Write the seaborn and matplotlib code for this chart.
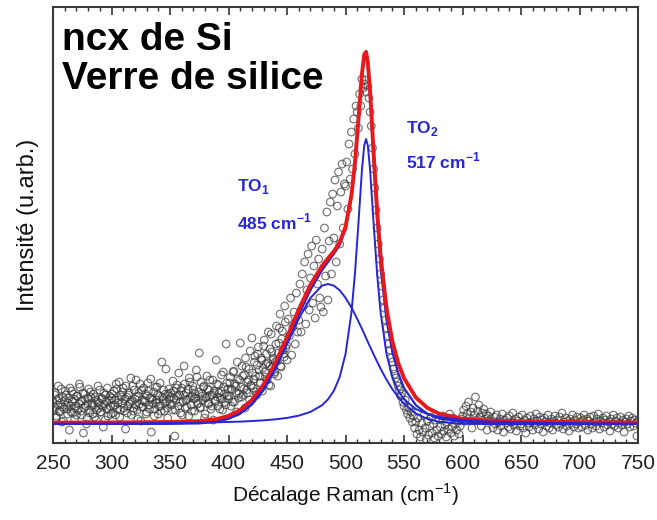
import matplotlib
matplotlib.use("Agg")
import matplotlib.pyplot as plt
import numpy as np
import pandas as pd
import seaborn as sns

# --- valeurs (intensité en u.arb., ligne de base = 0) ---

# spectre mesuré : un point par cm-1, de 250 à 750 cm-1
intensite = [
    # 250-299
    22, 14, 31, 8, 19, 26, 12, 35, 17, 3, 24, 29, 15, 21, -6, 18, 33, 11, 25, 16,
    9, 28, 20, 37, 13, 23, -9, 30, 18, 6, 26, 14, 32, 21, 10, 19, 27, 4, 22, 16,
    34, 12, 25, -3, 20, 29, 15, 8, 24, 18,
    # 300-349
    26, 11, 33, 19, 40, 15, 24, 7, 29, 21, 36, 13, -5, 27, 18, 31, 22, 9, 38, 16,
    25, 44, 14, 28, 20, 3, 34, 17, 23, 30, 12, 41, 19, 26, -8, 24, 32, 15, 21, 37,
    10, 28, 18, 62, 25, 13, 30, 22, 6, 35,
    # 350-399
    20, 27, 14, 33, -12, 24, 39, 18, 29, 11, 36, 22, 58, 16, 31, 25, 8, 42, 19, 28,
    34, 13, 26, 47, 21, 71, 17, 30, 24, 38, 10, 27, 35, 20, 44, 15, 29, 4, 33, 23,
    40, 18, 31, 26, 49, 14, 37, 22, 80, 28,
    # 400-419
    25, 41, 18, 34, 52, 22, 38, 12, 45, 30, 81, 27, 48, 35, 16, 57, 31, 44, 24, 39,
    # 420-439
    86, 36, 62, 48, 29, 70, 54, 41, 66, 33, 78, 52, 60, 44, 92, 58, 38, 72, 64, 50,
    # 440-459
    62, 98, 48, 81, 110, 57, 93, 70, 118, 76, 64, 105, 88, 126, 69, 97, 112, 80, 131, 92,
    # 460-479
    104, 140, 92, 150, 118, 162, 100, 134, 170, 114, 146, 178, 121, 158, 106, 184, 140, 165, 126, 117,
    # 480-499
    175, 112, 196, 148, 212, 124, 183, 222, 150, 230, 186, 244, 162, 218, 252, 180, 232, 260, 196, 240,
    # 500-509
    238, 262, 215, 280, 245, 292, 255, 305, 270, 318,
    # 510-519
    312, 296, 330, 318, 345, 336, 340, 344, 332, 338,
    # 520-529
    326, 312, 298, 276, 255, 236, 214, 196, 180, 165,
    # 530-544
    150, 138, 124, 116, 104, 96, 88, 80, 74, 66, 62, 55, 50, 46, 42,
    # 545-559
    38, 34, 28, 30, 22, 18, 24, 14, 10, 16, 6, 12, 2, 8, -4,
    # 560-599
    2, -10, 6, -6, -13, 1, -8, 9, -4, -15, 3, -11, -2, 7, -9, 0, -14, 4, -6, -12,
    5, -3, -10, 8, -7, -1, -13, 2, -5, 10, -9, -3, 6, -12, 0, -6, 3, -10, -2, 5,
    # 600-624
    8, 14, 3, 18, 10, 22, 6, 12, -4, 16, 9, 27, 4, 13, 19, 7, -2, 11, 15, 5, 10, -6, 8, 3, 12,
    # 625-699
    3, -4, 7, 0, 9, -6, 2, 5, -2, 10, -8, 4, 1, 6, -3, 8, -5, 2, 11, -1,
    5, -7, 3, 7, -2, 0, 9, -4, 4, -9, 6, 1, -3, 8, 2, -6, 5, -1, 10, 3,
    -5, 7, 0, 4, -8, 6, 2, -2, 9, -4, 1, 5, -6, 3, 8, -1, 4, -3, 7, 0,
    11, -5, 2, 6, -2, 3, -7, 5, 1, 9, -3, 4, 0, 7, -4,
    # 700-750
    2, 6, -3, 4, 9, -1, 5, -6, 3, 7, 0, -4, 8, 2, -2, 5, 10, -5, 3, 1,
    6, -3, 4, 8, -1, 2, -7, 5, 0, 9, -2, 3, 6, -4, 1, 7, -1, 4, -8, 2,
    5, 0, 8, -3, 3, 6, -2, 4, 1, -12, 3,
]
decalage = np.arange(250, 250 + len(intensite))

# points intermédiaires (demi cm-1) de la zone bruitée 250-450 cm-1
intensite_b = [
    # 250.5-299.5
    17, 29, 6, 24, 38, 13, 21, 2, 27, 15, 33, 19, 10, 26, 36, 12, 22, 30, 5, 18,
    28, 14, 40, 23, 9, 31, 16, 25, 0, 20, 35, 11, 27, 19, 30, 7, 24, 14, 38, 21,
    12, 26, 17, 31, 4, 23, 36, 15, 28, 10,
    # 300.5-349.5
    30, 18, 24, 9, 35, 21, 42, 14, 27, 32, 16, 25, 38, 11, 29, 20, 46, 23, 13, 34,
    19, 27, 5, 31, 40, 17, 24, 36, 22, 10, 28, 33, 15, 45, 26, 20, 8, 37, 24, 29,
    18, 41, 13, 27, 34, 21, 55, 16, 30, 25,
    # 350.5-399.5
    31, 19, 43, 26, 14, 36, 28, 51, 22, 33, 9, 29, 40, 24, 17, 35, 46, 27, 13, 38,
    25, 30, 54, 20, 32, 16, 42, 28, 37, 6, 26, 48, 21, 34, 29, 18, 44, 31, 23, 64,
    27, 39, 15, 33, 25, 52, 30, 19, 41, 35,
    # 400.5-449.5
    28, 47, 35, 22, 53, 40, 31, 62, 26, 44, 37, 58, 29, 49, 66, 34, 42, 55, 73, 38,
    51, 45, 68, 32, 59, 77, 48, 41, 64, 56, 84, 47, 70, 61, 39, 75, 90, 57, 66, 52,
    80, 63, 71, 96, 58, 85, 74, 67, 102, 79,
]
decalage_b = np.arange(250.5, 250.5 + len(intensite_b))

# courbes d'ajustement relevées aux nombres d'onde suivants
x_fit = [250, 275, 300, 325, 350, 375, 390, 400, 410, 420, 430, 440, 450, 460, 470,
         480, 485, 490, 495, 500, 505, 508, 511, 514, 516, 517.5, 519, 521, 524, 527,
         530, 535, 540, 545, 550, 560, 570, 580, 600, 625, 650, 700, 750]
to1 = [0, 0, 0, 0, 0.1, 0.5, 2.2, 5.1, 10.6, 20.1, 34.9, 55.2, 79.8, 105.1, 126.2,
       138.4, 140, 138.4, 133.7, 126.2, 116.5, 109.8, 102.6, 95.2, 90.1, 86.2, 82.3, 77.2, 69.6, 62.3,
       55.2, 44.4, 34.9, 26.8, 20.1, 10.6, 5.1, 2.2, 0.2, 0, 0, 0, 0]
to2 = [0.4, 0.5, 0.6, 0.8, 1.0, 1.4, 1.7, 2.1, 2.4, 3.0, 3.7, 4.7, 6.1, 8.4, 12.1,
       18.9, 24.7, 33.3, 47.0, 70.2, 111.2, 149.8, 200.4, 253.9, 278.7, 285, 278.7, 253.9, 200.4, 149.8,
       111.2, 70.2, 47.0, 33.3, 24.7, 15.0, 10.0, 7.1, 4.1, 2.4, 1.6, 0.9, 0.5]
enveloppe = [0.3, 0.4, 0.5, 0.6, 0.8, 1.5, 3.0, 5.5, 10.5, 19.5, 34, 55, 81, 109, 134,
             154, 162, 170, 179, 195, 226, 258, 301, 347, 366, 369, 358, 326, 262, 203,
             156, 104, 72, 51, 36, 19, 10, 5.5, 2.5, 1.2, 0.8, 0.5, 0.3]
somme = [1.4, 1.5, 1.6, 1.8, 2.1, 2.9, 4.9, 8.2, 14.0, 24.1, 39.6, 60.9, 86.9, 114.5, 139.3,
         158.3, 165.7, 172.7, 181.7, 197.4, 228.7, 260.6, 304.0, 350.1, 369.8, 372.2, 362.0, 332.1, 271.0, 213.1,
         167.4, 115.6, 82.9, 61.1, 45.8, 26.6, 16.1, 10.3, 5.3, 3.4, 2.6, 1.9, 1.5]

ticks_x = [250, 300, 350, 400, 450, 500, 550, 600, 650, 700, 750]

spectre = pd.DataFrame({"x": np.concatenate([decalage, decalage_b]),
                        "y": intensite + intensite_b})

sns.set_style("white")
plt.rcParams["font.family"] = ["Liberation Sans", "DejaVu Sans"]
plt.rcParams["mathtext.fontset"] = "custom"
plt.rcParams["mathtext.rm"] = "Liberation Sans"
plt.rcParams["mathtext.bf"] = "Liberation Sans:bold"
plt.rcParams["text.color"] = "#111111"
plt.rcParams["axes.labelcolor"] = "#111111"
plt.rcParams["xtick.color"] = "#222222"

bleu = "#2626d4"
rouge = "#e8191c"

fig = plt.figure(figsize=(6.57, 5.2), dpi=100)
ax = fig.add_axes([0.0807, 0.148, 0.8905, 0.8385])

# points expérimentaux
sns.scatterplot(data=spectre, x="x", y="y", ax=ax, marker="o", s=30,
                facecolors="none", edgecolor="#3a3a3a", linewidth=0.85, alpha=0.7,
                zorder=1)

# ajustements
sns.lineplot(x=x_fit, y=enveloppe, ax=ax, color=bleu, lw=1.6, zorder=2)
sns.lineplot(x=x_fit, y=somme, ax=ax, color=rouge, lw=2.8, zorder=3)
sns.lineplot(x=x_fit, y=to1, ax=ax, color=bleu, lw=1.4, zorder=4)
sns.lineplot(x=x_fit, y=to2, ax=ax, color=bleu, lw=1.4, zorder=4)

ax.set_xlim(250, 750)
ax.set_ylim(-19, 417)
ax.set_xticks(ticks_x)
ax.set_xticks(np.arange(250, 751, 10), minor=True)
ax.set_yticks([])
ax.tick_params(axis="x", which="both", direction="in", top=True, bottom=True,
               labelsize=15, pad=8, color="#333333")
ax.tick_params(axis="x", which="major", length=6, width=1.2)
ax.tick_params(axis="x", which="minor", length=3, width=1.0)
for s in ax.spines.values():
    s.set_color("#3a3a3a")
    s.set_linewidth(1.5)

ax.set_xlabel("Décalage Raman (cm$^{-1}$)", fontsize=15, labelpad=6)
ax.set_ylabel("Intensité (u.arb.)", fontsize=17, labelpad=10)

# titre dans le cadre
ax.text(0.015, 0.966, "ncx de Si\nVerre de silice", transform=ax.transAxes,
        ha="left", va="top", fontsize=28, fontweight="bold", linespacing=1.12,
        color="black")

# étiquettes des pics
ax.text(407, 238, r"TO$_\mathbf{1}$", color=bleu, fontsize=12.5, fontweight="bold",
        ha="left", va="center")
ax.text(407, 202, r"485 cm$^\mathbf{-1}$", color=bleu, fontsize=12.5, fontweight="bold",
        ha="left", va="center")
ax.text(552, 296, r"TO$_\mathbf{2}$", color=bleu, fontsize=12.5, fontweight="bold",
        ha="left", va="center")
ax.text(552, 263, r"517 cm$^\mathbf{-1}$", color=bleu, fontsize=12.5, fontweight="bold",
        ha="left", va="center")

fig.savefig("out.png", dpi=100)
